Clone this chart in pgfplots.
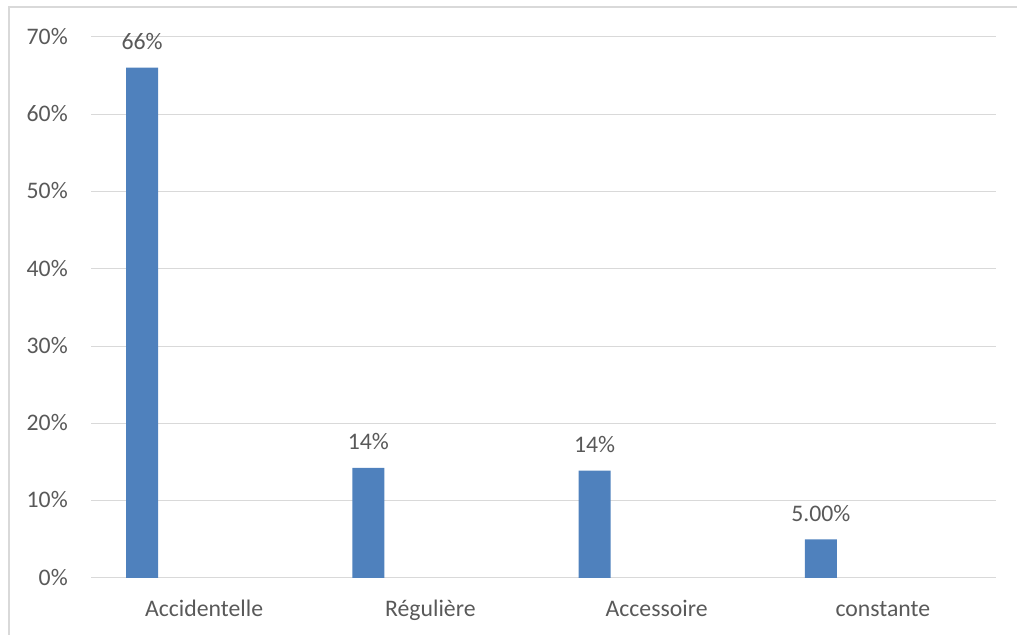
\documentclass[border=0pt]{standalone}
\usepackage{fontspec}
\setmainfont{Carlito}
\usepackage{pgfplots}
\usepackage{pgfplotstable}
\pgfplotsset{compat=1.18}

\definecolor{barblue}{HTML}{4F81BD}
\definecolor{gridgray}{HTML}{D9D9D9}
\definecolor{textgray}{HTML}{595959}

% share of each category (bars sit left of the category centre)
\pgfplotstableread{
x      y     lab
-0.274 66    66
0.726  14.25 14
1.726  13.9  14
2.726  5     5.00
}\bardata

\begin{document}
\begin{tikzpicture}
\path[use as bounding box] (0,0) rectangle (762.75pt,476.25pt);
% outer frame of the chart area
\draw[gridgray, line width=0.9pt] (6.75pt,-2pt) -- (6.75pt,471pt) -- (766pt,471pt);
\begin{axis}[
  at={(68.25pt,42.75pt)}, anchor=south west,
  scale only axis, width=678.75pt, height=406pt,
  xmin=-0.5, xmax=3.5, ymin=0, ymax=70,
  xtick={0,1,2,3},
  xticklabels={Accidentelle, Régulière, Accessoire, constante},
  ytick={0,10,...,70},
  yticklabel={\pgfmathprintnumber{\tick}\%},
  /pgf/number format/assume math mode=true,
  ymajorgrids,
  grid style={gridgray, line width=0.75pt},
  axis x line=bottom, axis y line=left,
  x axis line style={gridgray, line width=0.75pt, -},
  y axis line style={draw=none},
  major tick length=0pt,
  tick label style={font=\fontsize{17.8pt}{21pt}\selectfont, text=textgray, inner sep=0pt},
  yticklabel style={anchor=base east, xshift=-17.25pt, yshift=-5.5pt},
  xticklabel style={anchor=base, yshift=-29.25pt},
  clip=false,
]
\addplot[ybar, bar width=24pt, bar shift=0pt, fill=barblue, draw=none,
  point meta=explicit symbolic,
  nodes near coords={\pgfplotspointmeta\%},
  every node near coord/.append style={anchor=base, inner sep=0pt, yshift=13.5pt,
    font=\fontsize{17.8pt}{21pt}\selectfont, text=textgray}]
  table[x=x, y=y, meta=lab] {\bardata};
\end{axis}
\end{tikzpicture}
\end{document}
